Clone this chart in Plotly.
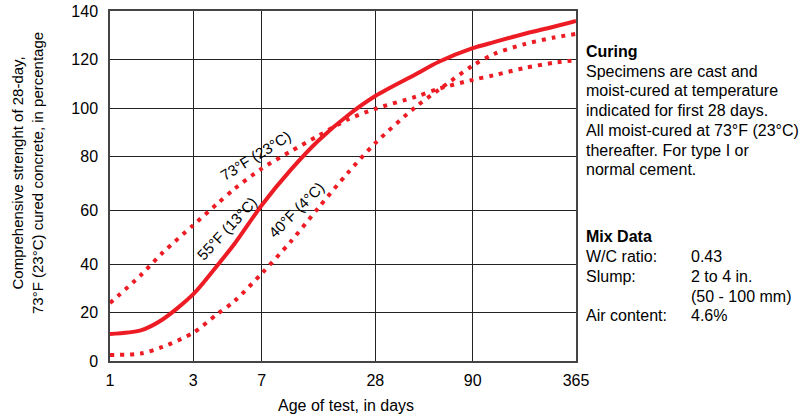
import numpy as np
import plotly.graph_objects as go

# ---------------- data ----------------
days = [1, 1.5, 2, 3, 4, 5, 7, 10, 14, 20, 28, 45, 60, 90, 120, 180, 270, 365]
cured_55F = [11.2, 12.7, 17.2, 27.6, 39.0, 47.6, 62.0, 75.0, 86.5, 97.0, 105.0,
             113.7, 119.0, 124.6, 127.1, 130.5, 133.5, 135.9]
cured_73F = [24.0, 35.4, 44.2, 54.6, 62.3, 68.0, 75.4, 82.0, 88.5, 95.3, 99.8,
             104.6, 108.0, 111.6, 113.5, 116.4, 118.6, 119.6]
cured_40F = [2.5, 3.1, 5.8, 11.7, 19.2, 24.8, 36.1, 48.5, 61.1, 73.8, 85.4,
             100.3, 107.6, 117.4, 122.2, 126.2, 129.0, 130.5]

x_tick_days = [1, 3, 7, 28, 90, 365]
x_tick_labels = ["1", "3", "7", "28", "90", "365"]
y_tick_values = [0, 20, 40, 60, 80, 100, 120, 140]
y_tick_labels = ["0", "20", "40", "60", "80", "100", "120", "140"]

# ---------------- axis scales (the original chart's uneven grid) ----------------
X_TICK_POS = [0, 83.3, 151.7, 265.3, 362.7, 466]
Y_TICK_POS = [0, 48.3, 97, 150.3, 205, 252.7, 301.7, 350]


def xscale(d):
    return np.interp(np.log(np.asarray(d, float)), np.log(x_tick_days), X_TICK_POS)


def yscale(v):
    return np.interp(np.asarray(v, float), y_tick_values, Y_TICK_POS)


W, H = 802, 417
PL, PT, PR, PB = 110, 11, 576, 361          # plot box in pixels
PW, PH = PR - PL, PB - PT


def px(xp):
    return (xp - PL) / PW


def py(yp):
    return (PB - yp) / PH


RED = "#ED1C24"
FONT = "Liberation Sans, Arial, sans-serif"
DOT = "4px,6px"

fig = go.Figure()
fig.add_trace(go.Scatter(x=xscale(days), y=yscale(cured_73F), mode="lines",
                         line=dict(color=RED, width=4, dash=DOT, shape="spline", smoothing=0.8),
                         hoverinfo="skip"))
fig.add_trace(go.Scatter(x=xscale(days), y=yscale(cured_40F), mode="lines",
                         line=dict(color=RED, width=4, dash=DOT, shape="spline", smoothing=0.8),
                         hoverinfo="skip"))
fig.add_trace(go.Scatter(x=xscale(days), y=yscale(cured_55F), mode="lines",
                         line=dict(color=RED, width=4, shape="spline", smoothing=0.8),
                         hoverinfo="skip"))

ann = []
# curve labels
for text, cx, cy, ang in [("73°F (23°C)", 255.8, 155.8, -32),
                          ("55°F (13°C)", 226.7, 228.3, -47),
                          ("40°F (4°C)", 296.7, 210.0, -45)]:
    ann.append(dict(text=text, x=px(cx), y=py(cy), xref="paper", yref="paper",
                    xanchor="center", yanchor="middle", textangle=ang,
                    showarrow=False, font=dict(size=15, color="black", family=FONT)))

# axis titles
ann.append(dict(text="Age of test, in days", x=px(346), y=py(405), xref="paper", yref="paper",
                xanchor="center", yanchor="middle", showarrow=False,
                font=dict(size=16, color="black", family=FONT)))
ann.append(dict(text="Comprehensive strenght of 28-day,<br>73°F (23°C) cured concrete, in percentage",
                x=px(27), y=py(173), xref="paper", yref="paper",
                xanchor="center", yanchor="middle", textangle=-90, showarrow=False,
                font=dict(size=15, color="black", family=FONT)))

# side notes
C1, C2 = 583.7, 689.3
notes = [("<b>Curing</b>", C1, 51.7),
         ("Specimens are cast and", C1, 71.7),
         ("moist-cured at temperature", C1, 91.0),
         ("indicated for first 28 days.", C1, 110.5),
         ("All moist-cured at 73°F (23°C)", C1, 130.0),
         ("thereafter. For type I or", C1, 150.0),
         ("normal cement.", C1, 169.3),
         ("<b>Mix Data</b>", C1, 236.7),
         ("W/C ratio:", C1, 256.7),
         ("0.43", C2, 256.7),
         ("Slump:", C1, 276.7),
         ("2 to 4 in.", C2, 276.7),
         ("(50 - 100 mm)", C2, 296.7),
         ("Air content:", C1, 315.5),
         ("4.6%", C2, 315.5)]
for text, nx, ny in notes:
    ann.append(dict(text=text, x=px(nx), y=py(ny), xref="paper", yref="paper",
                    xanchor="left", yanchor="middle", showarrow=False,
                    font=dict(size=16, color="black", family=FONT)))

fig.update_layout(
    width=W, height=H,
    margin=dict(l=PL, r=W - PR, t=PT, b=H - PB, pad=0, autoexpand=False),
    paper_bgcolor="white", plot_bgcolor="white",
    showlegend=False,
    annotations=ann,
    font=dict(family=FONT, color="black", size=16),
)
fig.update_xaxes(range=[0, X_TICK_POS[-1]], tickmode="array",
                 tickvals=X_TICK_POS, ticktext=x_tick_labels,
                 showgrid=True, gridcolor="#222222", gridwidth=1.2,
                 showline=True, linecolor="#444444", linewidth=1.5, mirror=True,
                 ticks="", zeroline=False, ticklabelstandoff=4, automargin=False,
                 ticklabeloverflow="allow",
                 tickfont=dict(size=16, color="black", family=FONT))
fig.update_yaxes(range=[0, Y_TICK_POS[-1]], tickmode="array",
                 tickvals=yscale(y_tick_values), ticktext=y_tick_labels,
                 showgrid=True, gridcolor="#222222", gridwidth=1.2,
                 showline=True, linecolor="#444444", linewidth=1.5, mirror=True,
                 ticks="", zeroline=False, ticklabelstandoff=7, automargin=False,
                 ticklabeloverflow="allow",
                 tickfont=dict(size=16, color="black", family=FONT))

# remove the browser's default 8px page margin so the figure fills the window
fig.write_html("out.html",
               config={"displayModeBar": False},
               post_script="document.body.style.margin='0';document.body.style.overflow='hidden';")
